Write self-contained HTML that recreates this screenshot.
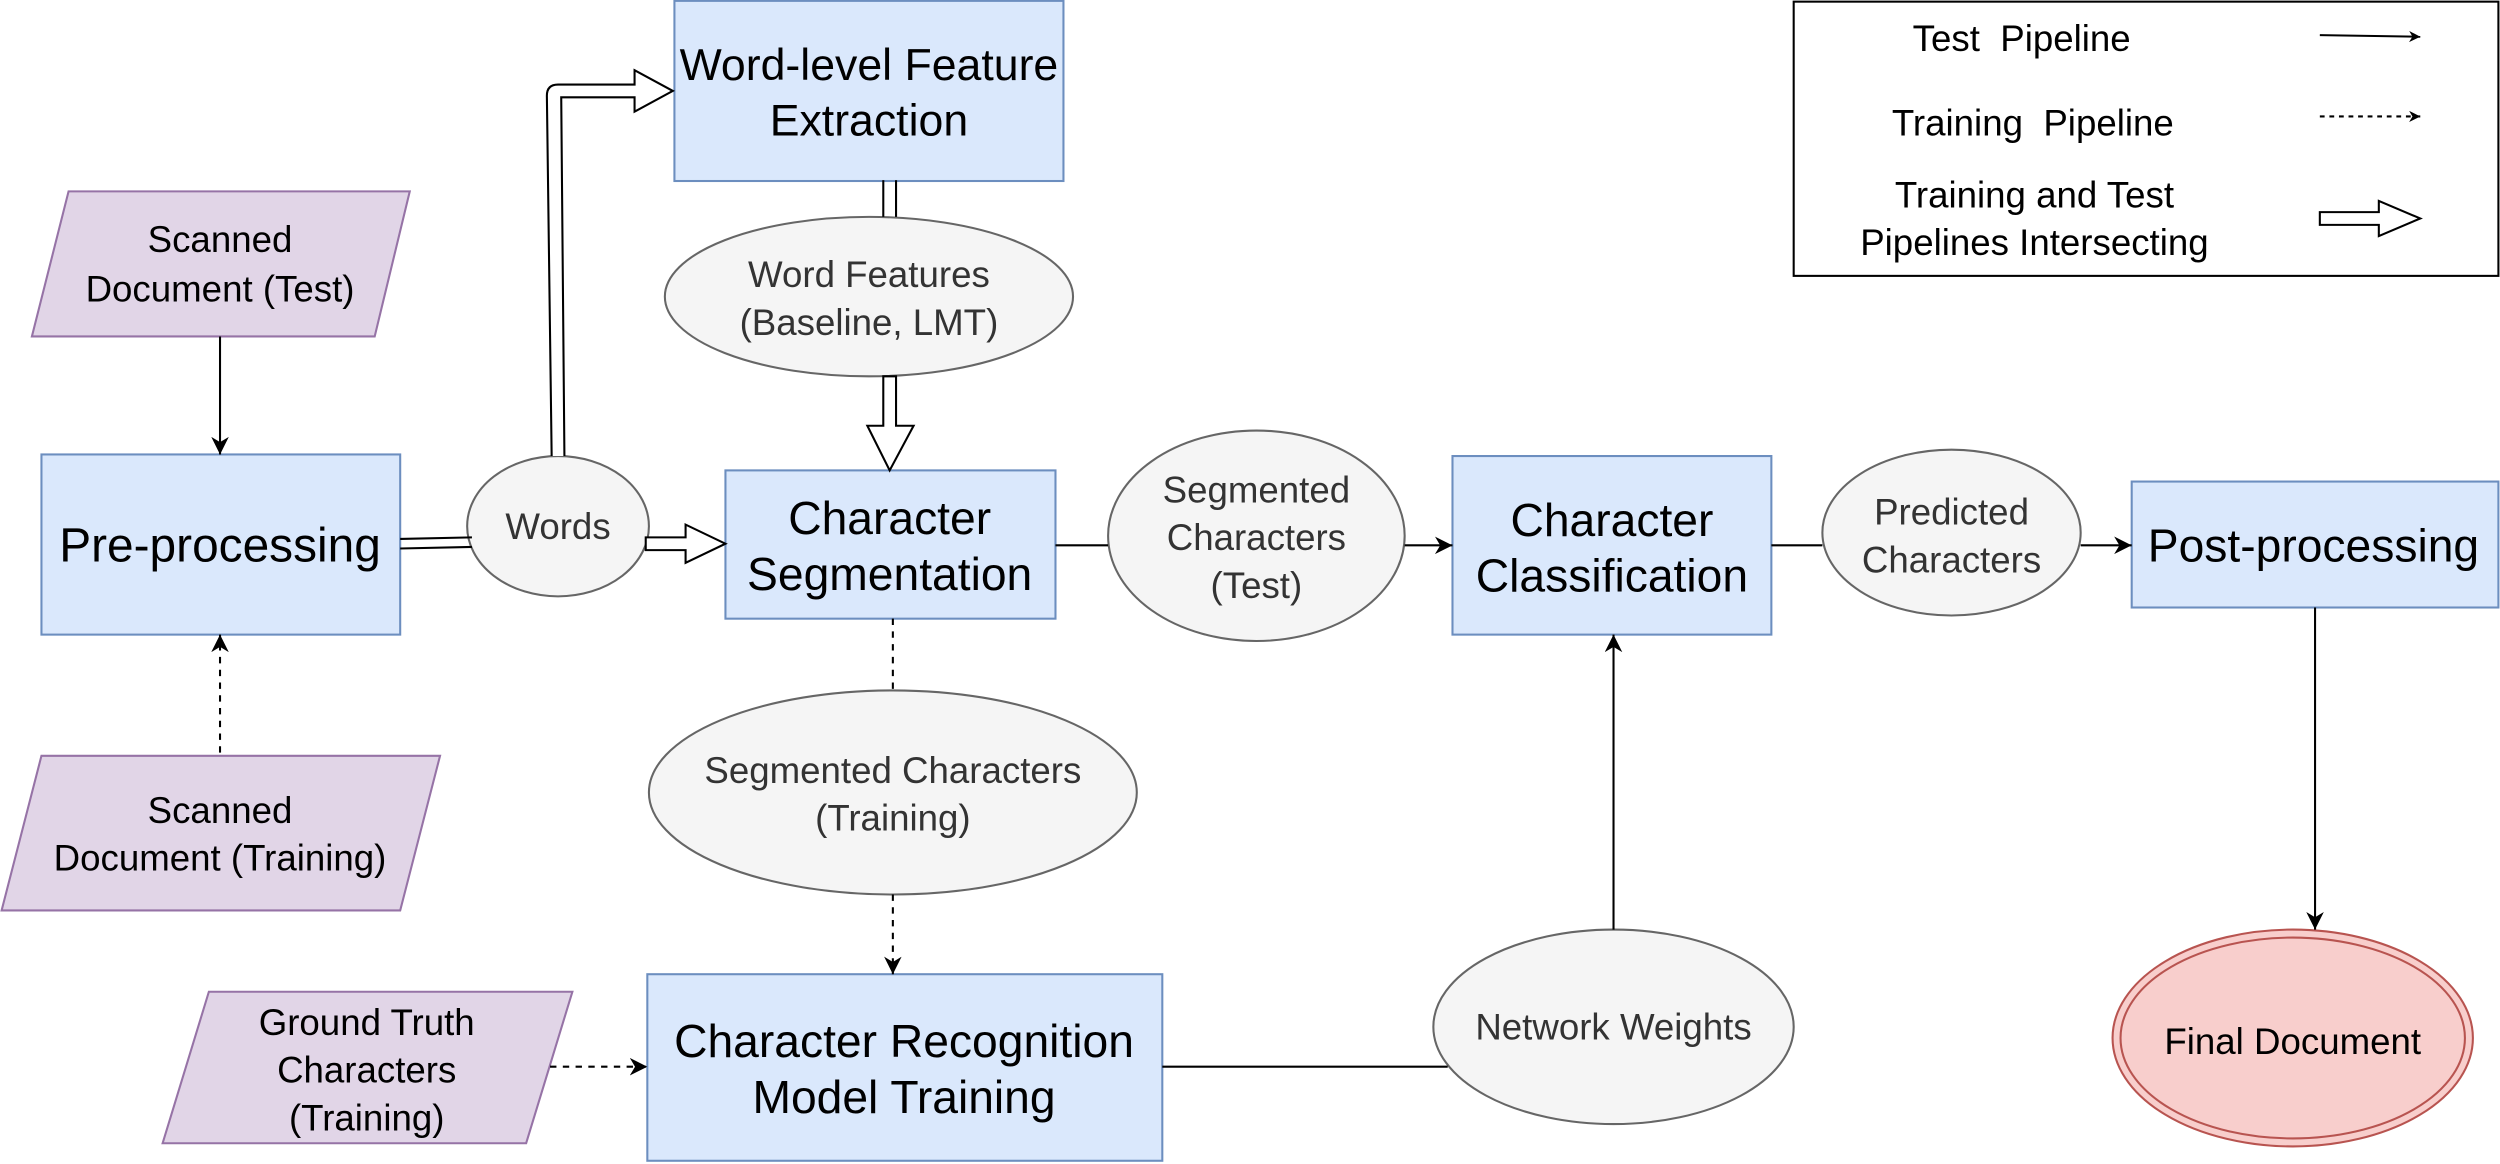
<!DOCTYPE html>
<html><head><meta charset="utf-8"><style>html,body{margin:0;padding:0;background:#fff}svg{display:block}</style></head>
<body>
<svg xmlns="http://www.w3.org/2000/svg" width="2500" height="1164" viewBox="0 0 1568 730" font-family="Liberation Sans, Arial, sans-serif">
<defs>
<marker id="a" viewBox="0 0 10 10" refX="10" refY="5" markerWidth="7" markerHeight="7" markerUnits="userSpaceOnUse" orient="auto"><path d="M0,0 L10,5 L0,10 L3,5 z" fill="#000"/></marker>
<marker id="b" viewBox="0 0 10 10" refX="10" refY="5" markerWidth="11" markerHeight="11" markerUnits="userSpaceOnUse" orient="auto"><path d="M0,0 L10,5 L0,10 L3,5 z" fill="#000"/></marker>
</defs>
<g stroke-width="1.3">
<rect x="423" y="0.5" width="244" height="113" fill="#dae8fc" stroke="#6c8ebf"/>
<rect x="26" y="285" width="225" height="113" fill="#dae8fc" stroke="#6c8ebf"/>
<rect x="455" y="295" width="207" height="93" fill="#dae8fc" stroke="#6c8ebf"/>
<rect x="911" y="286" width="200" height="112" fill="#dae8fc" stroke="#6c8ebf"/>
<rect x="1337" y="302" width="230" height="79" fill="#dae8fc" stroke="#6c8ebf"/>
<rect x="406" y="611" width="323" height="117" fill="#dae8fc" stroke="#6c8ebf"/>
<polygon points="43,120 257,120 235,211 20,211" fill="#e1d5e7" stroke="#9673a6"/>
<polygon points="26,474 276,474 251,571 1,571" fill="#e1d5e7" stroke="#9673a6"/>
<polygon points="131,622 359,622 330,717 102,717" fill="#e1d5e7" stroke="#9673a6"/>
<g fill="#f5f5f5" stroke="#666">
<ellipse cx="350" cy="330" rx="57" ry="44"/>
<ellipse cx="545" cy="186" rx="128" ry="50"/>
<ellipse cx="788" cy="336" rx="93" ry="66"/>
<ellipse cx="1224" cy="334" rx="81" ry="52"/>
<ellipse cx="560" cy="497" rx="153" ry="64"/>
<ellipse cx="1012" cy="644" rx="113" ry="61"/>
</g>
<ellipse cx="1438" cy="651" rx="113" ry="68" fill="#f8cecc" stroke="#b85450"/>
<ellipse cx="1438" cy="651" rx="108" ry="63" fill="none" stroke="#b85450"/>
<rect x="1125" y="1" width="442" height="172" fill="#fff" stroke="#000"/>
</g>
<g stroke="#000" stroke-width="1.3" fill="none">
<line x1="138" y1="211" x2="138" y2="285" marker-end="url(#b)"/>
<line x1="138" y1="472" x2="138" y2="398" stroke-dasharray="4,4" marker-end="url(#b)"/>
<line x1="251" y1="338" x2="296" y2="337"/>
<line x1="251" y1="344" x2="296" y2="343"/>
<polygon points="405,337 430,337 430,329 455,341 430,353 430,345 405,345" fill="#fff"/>
<path d="M346,286 L343,60 Q343,53 350,53 L398,53 L398,44 L422,57 L398,70 L398,61 L352,61 L354,286" fill="#fff"/>
<line x1="554" y1="113" x2="554" y2="136"/>
<line x1="562" y1="113" x2="562" y2="136"/>
<polygon points="554,236 554,267 544,267 558,295 573,267 562,267 562,236" fill="#fff"/>
<line x1="662" y1="342" x2="695" y2="342"/>
<line x1="881" y1="342" x2="911" y2="342" marker-end="url(#b)"/>
<line x1="1111" y1="342" x2="1143" y2="342"/>
<line x1="1305" y1="342" x2="1337" y2="342" marker-end="url(#b)"/>
<line x1="1452" y1="381" x2="1452" y2="583" marker-end="url(#b)"/>
<line x1="560" y1="388" x2="560" y2="433" stroke-dasharray="4,4"/>
<line x1="560" y1="561" x2="560" y2="611" stroke-dasharray="4,4" marker-end="url(#b)"/>
<line x1="345" y1="669" x2="406" y2="669" stroke-dasharray="4,4" marker-end="url(#b)"/>
<line x1="729" y1="669" x2="908" y2="669"/>
<line x1="1012" y1="583" x2="1012" y2="398" marker-end="url(#b)"/>
<line x1="1455" y1="22" x2="1518" y2="23" marker-end="url(#a)"/>
<line x1="1455" y1="73" x2="1518" y2="73" stroke-dasharray="3,3" marker-end="url(#a)"/>
<polygon points="1455,133 1492,133 1492,126 1518,137 1492,148 1492,141 1455,141" fill="#fff"/>
</g>
<g text-anchor="middle" fill="#000">
<text x="545" y="50" font-size="28">Word-level Feature</text>
<text x="545" y="85" font-size="28">Extraction</text>
<text x="138" y="352" font-size="30">Pre-processing</text>
<text x="558" y="335" font-size="29">Character</text>
<text x="558" y="370" font-size="29">Segmentation</text>
<text x="1011" y="336" font-size="29">Character</text>
<text x="1011" y="371" font-size="29">Classification</text>
<text x="1451" y="352" font-size="29">Post-processing</text>
<text x="567" y="663" font-size="29">Character Recognition</text>
<text x="567" y="698" font-size="29">Model Training</text>
<g font-size="23">
<text x="138" y="158">Scanned</text>
<text x="138" y="189">Document (Test)</text>
<text x="138" y="516">Scanned</text>
<text x="138" y="546">Document (Training)</text>
<text x="230" y="649">Ground Truth</text>
<text x="230" y="679">Characters</text>
<text x="230" y="709">(Training)</text>
<text x="1438" y="661">Final Document</text>
<text x="1268" y="32">Test&#160;&#160;Pipeline</text>
<text x="1275" y="85">Training&#160;&#160;Pipeline</text>
<text x="1276" y="130">Training and Test</text>
<text x="1276" y="160">Pipelines Intersecting</text>
</g>
<g font-size="23" fill="#333">
<text x="350" y="338">Words</text>
<text x="545" y="180">Word Features</text>
<text x="545" y="210">(Baseline, LMT)</text>
<text x="788" y="315">Segmented</text>
<text x="788" y="345">Characters</text>
<text x="788" y="375">(Test)</text>
<text x="1224" y="329">Predicted</text>
<text x="1224" y="359">Characters</text>
<text x="560" y="491">Segmented Characters</text>
<text x="560" y="521">(Training)</text>
<text x="1012" y="652">Network Weights</text>
</g>
</g>
</svg>
</body></html>
